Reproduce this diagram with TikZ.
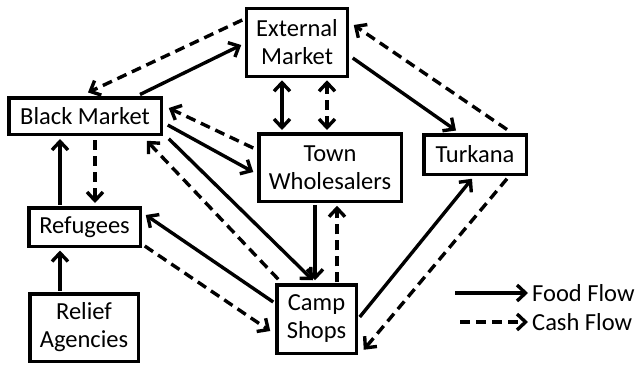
\documentclass[tikz,border=0pt]{standalone}
\usepackage{fontspec}
\setmainfont{Carlito}
\usetikzlibrary{arrows.meta,calc}
\begin{document}
\begin{tikzpicture}[x=1pt,y=-1pt,
  >={Straight Barb[length=8.5pt,width=16pt]},
  box/.style={draw,line width=3.5pt,inner sep=0pt,align=center,font=\fontsize{24.5}{28}\selectfont},
  food/.style={line width=3.4pt,->},
  cash/.style={line width=3.4pt,->,dash pattern=on 10pt off 6pt},
  lbl/.style={anchor=west,inner sep=4pt,font=\fontsize{24.5}{28}\selectfont}
]
\useasboundingbox (0,0) rectangle (638,365);
\fill[white] (0,0) rectangle (638,365);

\node[box,minimum width=101pt,minimum height=68pt] (em) at (297,42.5) {External\\Market};
\node[box,minimum width=152.5pt,minimum height=36.5pt] (bm) at (85,116) {Black Market};
\node[box,minimum width=142.5pt,minimum height=67.5pt] (tw) at (330,167.5) {Town\\Wholesalers};
\node[box,minimum width=102.5pt,minimum height=39.5pt] (tk) at (475,154.5) {Turkana};
\node[box,minimum width=111.5pt,minimum height=38.5pt] (rf) at (84.5,227) {Refugees};
\node[box,minimum width=108.5pt,minimum height=67.5pt] (ra) at (84,327.5) {Relief\\Agencies};
\node[box,minimum width=79.5pt,minimum height=68.5pt] (cs) at (316.5,319) {Camp\\Shops};

% Black Market <-> External Market
\draw[food] ($(bm.north)+(55,-1.5)$) -- ($(em.west)+(-3.5,2.5)$);
\draw[cash] ($(em.west)+(-2.5,-22.5)$) -- ($(bm.north)+(3,-3.5)$);
% External Market <-> Town Wholesalers
\draw[food,<->] ($(em.south)+(-15,2)$) -- ($(tw.north)+(-48,-2)$);
\draw[cash,<->] ($(em.south)+(30,2)$) -- ($(tw.north)+(-3,-2)$);
% External Market <-> Turkana
\draw[food] ($(em.east)+(3.5,15.5)$) -- ($(tk.north)+(-19,-2.5)$);
\draw[cash] ($(tk.north)+(32,-3.5)$) -- ($(em.east)+(4.5,-17.5)$);
% Town Wholesalers <-> Black Market
\draw[cash] ($(tw.west)+(-3.75,-19.5)$) -- ($(bm.east)+(5.75,-8)$);
\draw[food] ($(bm.east)+(4.75,9)$) -- ($(tw.west)+(-3.75,4.5)$);
% Black Market <-> Camp Shops
\draw[food] ($(bm.south east)+(5.75,2.75)$) -- ($(cs.north)+(-3.5,-2.75)$);
\draw[cash] ($(cs.north west)+(3.25,-3.75)$) -- ($(bm.south east)+(-16.25,4.75)$);
% Town Wholesalers <-> Camp Shops
\draw[food] ($(tw.south)+(-15,1.75)$) -- ($(cs.north)+(-1.5,-2.75)$);
\draw[cash] ($(cs.north)+(20.5,-0.75)$) -- ($(tw.south)+(7,2.75)$);
% Camp Shops <-> Refugees
\draw[food] ($(cs.west)+(-1.75,-17)$) -- ($(rf.east)+(3.75,-12)$);
\draw[cash] ($(rf.east)+(2.75,19)$) -- ($(cs.west)+(-4.75,12)$);
% Refugees <-> Black Market
\draw[food] ($(rf.north)+(-24.5,-1.5)$) -- ($(bm.south)+(-25,3)$);
\draw[cash] ($(bm.south)+(10,4)$) -- ($(rf.north)+(10.5,-3)$);
% Relief Agencies -> Refugees
\draw[food] ($(ra.north)+(-24,-1.5)$) -- ($(rf.south)+(-24.5,2.5)$);
% Camp Shops <-> Turkana
\draw[food] ($(cs.east)+(1.75,-2)$) -- ($(tk.south)+(-3,2.75)$);
\draw[cash] ($(tk.south)+(32,2.75)$) -- ($(cs.south east)+(5.75,-5.25)$);

% Legend
\node[lbl] (lf) at (528,293) {Food Flow};
\node[lbl] (lc) at (528,322) {Cash Flow};
\coordinate (lf0) at (455,293);
\coordinate (lc0) at (460,322);
\draw[food] (lf0) -- (lf.west);
\draw[cash] (lc0) -- (lc.west);
\end{tikzpicture}
\end{document}
